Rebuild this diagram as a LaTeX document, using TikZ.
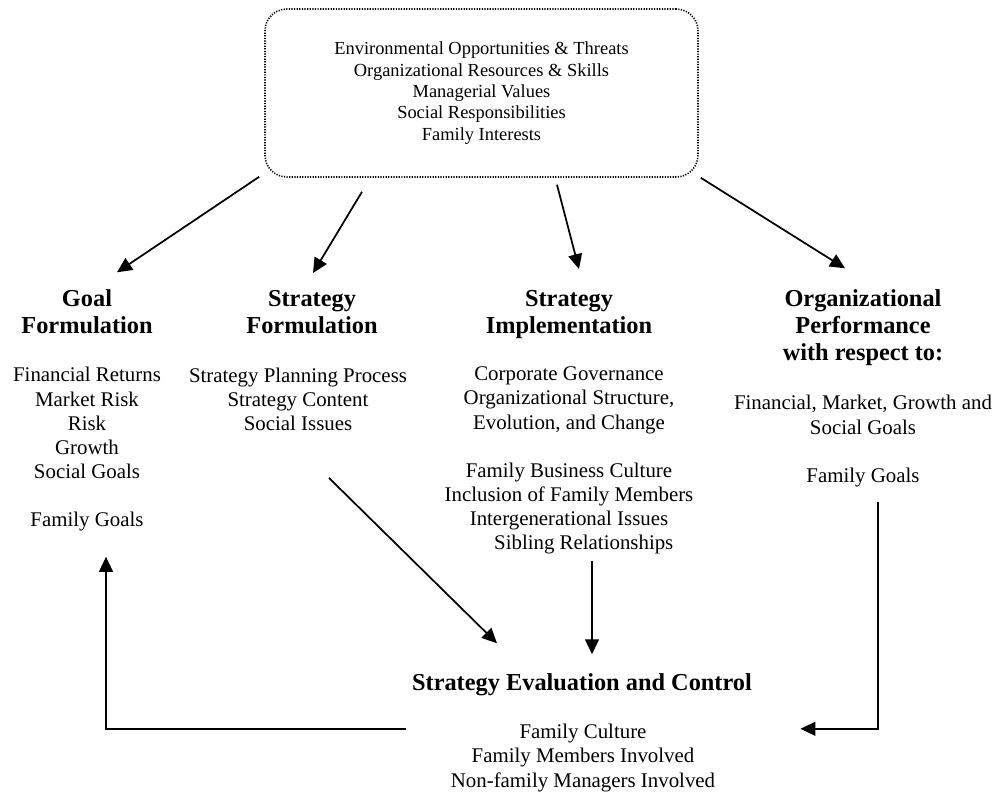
\documentclass[tikz,border=0pt]{standalone}
\usepackage{fontspec}
\setmainfont{Liberation Serif}
\usetikzlibrary{arrows.meta,calc}

\begin{document}
\begin{tikzpicture}[
    x=0.575pt, y=-0.575pt,
    topbox/.style={rectangle, draw, rounded corners=12.6pt, line width=0.9pt, dash pattern=on 0.7pt off 0.8pt, minimum width=249pt, minimum height=96.6pt, align=center, font=\fontsize{10.6}{12.3}\selectfont},
    head/.style={font=\fontsize{14}{15.8}\selectfont\bfseries, align=center, inner sep=0pt, anchor=base},
    body/.style={font=\fontsize{12}{13.9}\selectfont, align=center, inner sep=0pt, anchor=base},
    arrow/.style={-{Triangle[length=8.6pt, width=8pt]}, line width=1pt}
]
\useasboundingbox (0,0) rectangle (999,794);

\node[topbox] (env) at (481.5,93) {Environmental Opportunities \& Threats\\Organizational Resources \& Skills\\Managerial Values\\Social Responsibilities\\Family Interests};

\node[head] (goalhead) at (87,333.5) {Goal\\Formulation};
\node[body] (goalbody) at (87,527) {Financial Returns\\Market Risk\\Risk\\Growth\\Social Goals\\[13.9pt]Family Goals};

\node[head] (sfhead) at (312,333.5) {Strategy\\Formulation};
\node[body] (sfbody) at (298,430.4) {Strategy Planning Process\\Strategy Content\\Social Issues};

\node[head] (sihead) at (569,333.5) {Strategy\\Implementation};
\node[body] (sibody) at (569,550) {Corporate Governance\\Organizational Structure,\\Evolution, and Change\\[13.9pt]Family Business Culture\\Inclusion of Family Members\\Intergenerational Issues\\\hspace*{17pt}Sibling Relationships};

\node[head] (ophead) at (863,361) {Organizational\\Performance\\with respect to:};
\node[body] (opbody) at (863,482.5) {Financial, Market, Growth and\\Social Goals\\[13.9pt]Family Goals};

\node[head] (evalhead) at (582,690) {Strategy Evaluation and Control};
\node[body] (evalbody) at (583,787) {Family Culture\\Family Members Involved\\Non-family Managers Involved};

\draw[arrow] ($(env.south west)+(-5,-1)$) -- ($(goalhead.north)+(30,-16.5)$);
\draw[arrow] ($(env.south)+(-119.5,14)$) -- ($(sfhead.north)+(1,-16.5)$);
\draw[arrow] ($(env.south)+(75.5,7)$) -- ($(sihead.north)+(10,-20.5)$);
\draw[arrow] ($(env.south east)+(2,0)$) -- ($(ophead.north)+(-18,-20.5)$);
\draw[arrow] ($(sfbody.south)+(31,47)$) -- ($(evalhead.north)+(-85,-29.5)$);
\draw[arrow] ($(sibody.south)+(23,6)$) -- ($(evalhead.north)+(10,-18.5)$);
\draw[arrow] ($(opbody.south)+(15,15)$) |- ($(evalbody.north east)+(85,5)$);
\draw[arrow] ($(evalbody.north west)+(-45,5)$) -| ($(goalbody.south)+(19,25)$);

\end{tikzpicture}
\end{document}
